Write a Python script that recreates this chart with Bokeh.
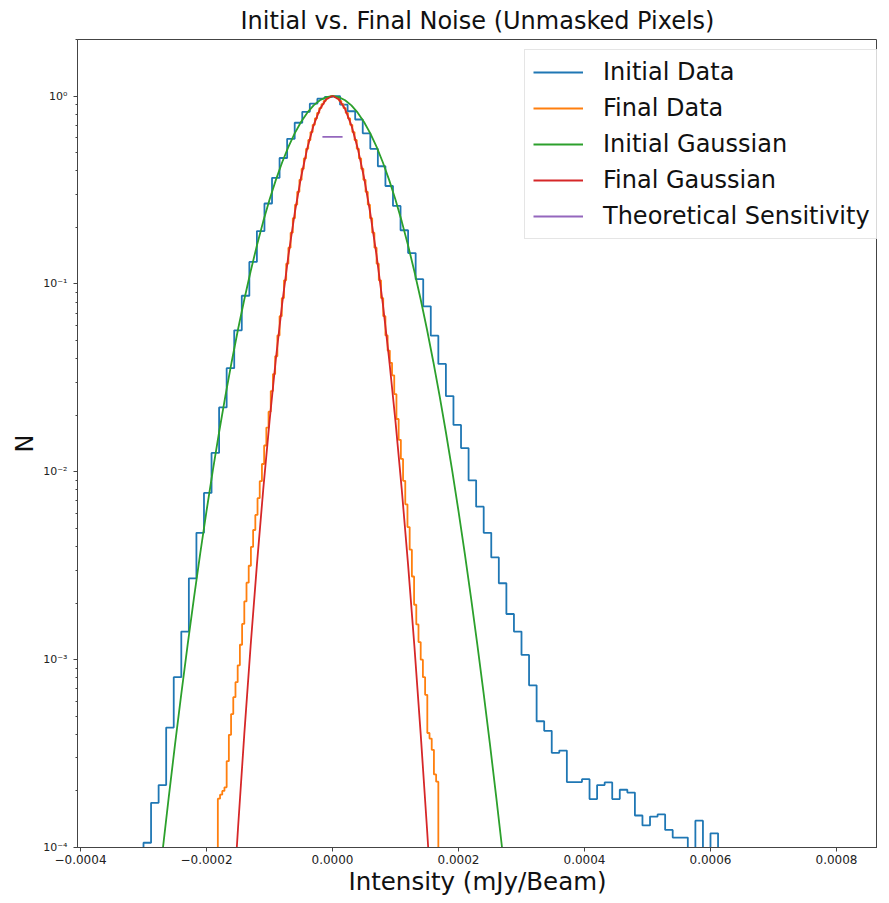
from bokeh.plotting import figure
from bokeh.models import Range1d, FixedTicker, CustomJSTickFormatter, Spacer
from bokeh.layouts import row
from bokeh.embed import file_html
from bokeh.resources import INLINE

# ---------------- data ----------------
# Initial data histogram: 76 bins, start edge and width
initial_bin_start = -0.000300
initial_bin_width = 0.0000120
initial_counts = [
    1.06e-4, 1.73e-4, 2.15e-4, 4.35e-4, 8.07e-4, 1.41e-3, 2.71e-3, 4.73e-3, 7.72e-3, 1.26e-2,
    2.20e-2, 3.56e-2, 0.0566, 0.0865, 0.131, 0.191, 0.268, 0.367, 0.468, 0.592,
    0.721, 0.824, 0.911, 0.968, 0.990, 1.000, 0.900, 0.830, 0.750, 0.633,
    0.524, 0.423, 0.332, 0.260, 0.193, 0.146, 0.106, 0.076, 0.053, 0.0375,
    0.0253, 0.01775, 0.01337, 0.0090, 0.00652, 0.00473, 0.00350, 0.00255, 0.00175, 0.00141,
    0.00106, 0.00073, 0.00047, 0.000418, 0.000319, 0.000328, 0.000223, 0.000223, 0.000231, 0.000181,
    0.000215, 0.000222, 0.000181, 0.000203, 0.000196, 0.000148, 0.000131, 0.000146, 0.000150, 0.000124,
    0.000113, 0.000113, 0.0, 0.000139, 0.0, 0.000119,
]

# Final data histogram: 100 bins
final_bin_start = -0.000182
final_bin_width = 0.0000035
final_counts = [
    1.82e-4, 1.91e-4, 2.00e-4, 2.09e-4, 2.88e-4, 3.98e-4, 5.13e-4, 6.31e-4, 7.59e-4, 9.33e-4,
    1.20e-3, 1.55e-3, 2.04e-3, 2.57e-3, 3.16e-3, 3.98e-3, 4.90e-3, 5.89e-3, 7.24e-3, 8.91e-3,
    1.10e-2, 1.38e-2, 1.72e-2, 2.09e-2, 2.69e-2, 3.31e-2, 4.12e-2, 5.32e-2, 6.73e-2, 8.41e-2,
    0.1045, 0.1282, 0.1560, 0.1875, 0.2239, 0.2642, 0.3090, 0.3581, 0.4102, 0.4656,
    0.5236, 0.5834, 0.6427, 0.7031, 0.7603, 0.8128, 0.8630, 0.9057, 0.9419, 0.9705,
    0.9886, 1.0000, 0.9989, 0.9886, 0.9705, 0.9419, 0.9057, 0.8630, 0.8128, 0.7603,
    0.7031, 0.6427, 0.5834, 0.5236, 0.4656, 0.4102, 0.3581, 0.3090, 0.2642, 0.2239,
    0.1875, 0.1560, 0.1282, 0.1045, 0.0841, 0.0673, 0.0532, 0.0442, 0.0380, 0.0326,
    0.0259, 0.0191, 0.0148, 0.0117, 0.00895, 0.00671, 0.00508, 0.00385, 0.00277, 0.00196,
    0.00154, 0.00124, 0.00100, 0.000807, 0.000650, 0.000407, 0.000380, 0.000331, 0.000245, 0.000224,
]

# Initial Gaussian fit curve (sampled points)
init_gauss_x = [
    -0.00028, -0.00027, -0.00026, -0.00025, -0.00024, -0.00023, -0.00022, -0.00021, -0.00020, -0.00019,
    -0.00018, -0.00017, -0.00016, -0.00015, -0.00014, -0.00013, -0.00012, -0.00011, -0.00010, -0.00009,
    -0.00008, -0.00007, -0.00006, -0.00005, -0.00004, -0.00003, -0.00002, -0.00001, 0.0,
    0.00001, 0.00002, 0.00003, 0.00004, 0.00005, 0.00006, 0.00007, 0.00008, 0.00009, 0.00010,
    0.00011, 0.00012, 0.00013, 0.00014, 0.00015, 0.00016, 0.00017, 0.00018, 0.00019, 0.00020,
    0.00021, 0.00022, 0.00023, 0.00024, 0.00025, 0.00026, 0.00027, 0.00028,
]
init_gauss_y = [
    0.00004669, 0.00009397, 0.0001844, 0.0003527, 0.0006578, 0.001196, 0.002120, 0.003664, 0.006173, 0.01013,
    0.01623, 0.02533, 0.03854, 0.05716, 0.08264, 0.1165, 0.1601, 0.2146, 0.2804, 0.3569,
    0.4430, 0.5362, 0.6327, 0.7275, 0.8159, 0.8918, 0.9504, 0.9874, 1.0,
    0.9874, 0.9504, 0.8918, 0.8159, 0.7275, 0.6327, 0.5362, 0.4430, 0.3569, 0.2804,
    0.2146, 0.1601, 0.1165, 0.08264, 0.05716, 0.03854, 0.02533, 0.01623, 0.01013, 0.006173,
    0.003664, 0.002120, 0.001196, 0.0006578, 0.0003527, 0.0001844, 0.00009397, 0.00004669,
]

# Final Gaussian fit curve (sampled points)
final_gauss_x = [
    -0.00016, -0.00015, -0.00014, -0.00013, -0.00012, -0.00011, -0.00010, -0.00009, -0.00008,
    -0.00007, -0.00006, -0.00005, -0.00004, -0.00003, -0.00002, -0.00001, 0.0,
    0.00001, 0.00002, 0.00003, 0.00004, 0.00005, 0.00006, 0.00007, 0.00008,
    0.00009, 0.00010, 0.00011, 0.00012, 0.00013, 0.00014, 0.00015, 0.00016,
]
final_gauss_y = [
    0.00003664, 0.0001263, 0.0004015, 0.001179, 0.003197, 0.008003, 0.01850, 0.03949, 0.07780,
    0.1415, 0.2377, 0.3687, 0.5281, 0.6982, 0.8524, 0.9609, 1.0,
    0.9609, 0.8524, 0.6982, 0.5281, 0.3687, 0.2377, 0.1415, 0.07780,
    0.03949, 0.01850, 0.008003, 0.003197, 0.001179, 0.0004015, 0.0001263, 0.00003664,
]

# Theoretical sensitivity marker
theo_x = [-0.000016, 0.000016]
theo_y = [0.6065, 0.6065]

x_ticks = [-0.0004, -0.0002, 0.0, 0.0002, 0.0004, 0.0006, 0.0008]
y_ticks = [1e-4, 1e-3, 1e-2, 1e-1, 1.0]
y_minor_ticks = [m * d for d in (1e-4, 1e-3, 1e-2, 1e-1, 1.0) for m in range(2, 10)]

labels = ["Initial Data", "Final Data", "Initial Gaussian", "Final Gaussian", "Theoretical Sensitivity"]
colors = ["#1f77b4", "#ff7f0e", "#2ca02c", "#d62728", "#9467bd"]

# ---------------- helpers ----------------
FLOOR = 1e-7


def step_outline(start, width, counts):
    edges = [start + width * i for i in range(len(counts) + 1)]
    xs, ys = [edges[0]], [FLOOR]
    for i, c in enumerate(counts):
        v = c if c > 0 else FLOOR
        xs += [edges[i], edges[i + 1]]
        ys += [v, v]
    xs.append(edges[-1])
    ys.append(FLOOR)
    return xs, ys


FONT = "DejaVu Sans"

p = figure(
    frame_width=800, frame_height=808,
    min_border_left=0, min_border_top=0, min_border_right=0, min_border_bottom=0,
    y_axis_type="log",
    x_range=Range1d(-0.00040476, 0.00086508),
    y_range=Range1d(1e-4, 2.0),
    output_backend="svg", toolbar_location=None,
    title="Initial vs. Final Noise (Unmasked Pixels)",
    background_fill_color="white", border_fill_color="white",
)

p.title.text_font = FONT
p.title.text_font_size = "24px"
p.title.text_font_style = "normal"
p.title.align = "center"
p.title.standoff = 9
p.title.offset = 16
p.title.text_color = "#111111"

p.xgrid.grid_line_color = None
p.ygrid.grid_line_color = None
p.outline_line_color = "#444444"
p.outline_line_width = 1

# axes
p.xaxis.ticker = FixedTicker(ticks=x_ticks)
p.xaxis.formatter = CustomJSTickFormatter(
    code="return (tick < -1e-12 ? '\u2212' : '') + Math.abs(tick).toFixed(4);")
p.yaxis.ticker = FixedTicker(ticks=y_ticks, minor_ticks=y_minor_ticks)
p.yaxis.formatter = CustomJSTickFormatter(code="""
const sup = {'-': '\u207b', '0': '\u2070', '1': '\u00b9', '2': '\u00b2', '3': '\u00b3', '4': '\u2074',
             '5': '\u2075', '6': '\u2076', '7': '\u2077', '8': '\u2078', '9': '\u2079'};
const e = Math.round(Math.log10(tick));
return '10' + String(e).split('').map(c => sup[c]).join('');
""")

for ax in (p.xaxis[0], p.yaxis[0]):
    ax.axis_line_color = "#444444"
    ax.major_tick_line_color = "#444444"
    ax.minor_tick_line_color = "#444444"
    ax.major_tick_out = 4
    ax.major_tick_in = 0
    ax.minor_tick_out = 2
    ax.minor_tick_in = 0
    ax.major_label_text_font = FONT
    ax.major_label_text_color = "#222222"
    ax.major_label_text_line_height = 1.0
    ax.axis_label_text_font = FONT
    ax.axis_label_text_font_style = "normal"
    ax.axis_label_text_color = "#111111"
    ax.axis_label_text_line_height = 1.0

p.xaxis.axis_label_text_font_size = "24.5px"
p.yaxis.axis_label_text_font_size = "24px"
p.xaxis.major_label_text_font_size = "12px"
p.yaxis.major_label_text_font_size = "11px"
p.xaxis.major_label_standoff = 3
p.yaxis.major_label_standoff = 6
p.xaxis.axis_label = "Intensity (mJy/Beam)"
p.yaxis.axis_label = "N"
p.xaxis.axis_label_standoff = 0
p.yaxis.axis_label_standoff = 1

# glyphs
ix, iy = step_outline(initial_bin_start, initial_bin_width, initial_counts)
fx, fy = step_outline(final_bin_start, final_bin_width, final_counts)

LW = 1.8
p.line(ix, iy, color=colors[0], line_width=LW, legend_label=labels[0])
p.line(fx, fy, color=colors[1], line_width=LW, legend_label=labels[1])
p.line(init_gauss_x, init_gauss_y, color=colors[2], line_width=LW, legend_label=labels[2])
p.line(final_gauss_x, final_gauss_y, color=colors[3], line_width=LW, legend_label=labels[3])
p.line(theo_x, theo_y, color=colors[4], line_width=LW, legend_label=labels[4])

lg = p.legend[0]
lg.location = (447, 608)
lg.label_text_font = FONT
lg.label_text_font_size = "24px"
lg.label_text_color = "#111111"
lg.glyph_width = 50
lg.glyph_height = 28
lg.label_height = 28
lg.label_standoff = 20
lg.padding = 8
lg.spacing = 8
lg.margin = 0
lg.border_line_color = "#cccccc"
lg.border_line_width = 1
lg.background_fill_alpha = 0.8

layout = row(Spacer(width=8, height=10), p)

open("out.html", "w").write(file_html(layout, INLINE))
